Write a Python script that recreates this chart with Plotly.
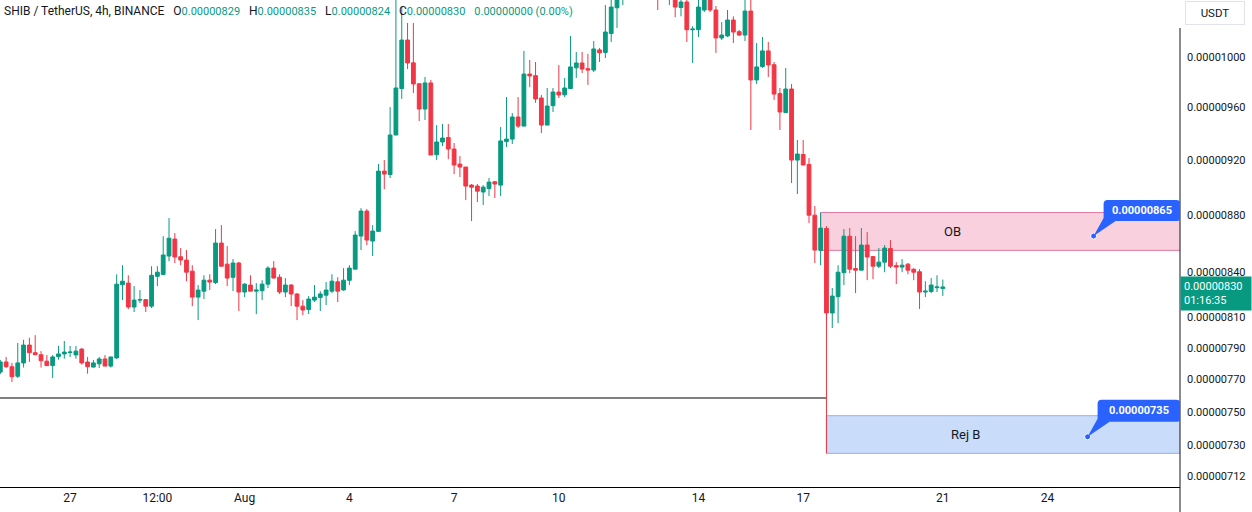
import math
import pandas as pd
import plotly.graph_objects as go

# ---------------- data (prices in units of 1e-8 USDT, 4h candles) ----------------
candle_start = "2023-07-25 00:00"
open_e8 = [774.6, 781.0, 778.0, 772.0, 780.4, 791.8, 786.9, 785.6, 781.5, 778.7,
           784.5, 786.1, 787.0, 785.5, 789.2, 781.0, 777.8, 779.8, 782.9, 778.4,
           783.6, 831.5, 832.6, 816.6, 821.2, 821.5, 817.2, 837.2, 838.5, 851.1,
           862.9, 850.6, 848.3, 840.7, 823.2, 827.2, 834.6, 833.0, 860.1, 845.5,
           836.5, 846.3, 826.6, 831.3, 827.2, 827.5, 831.9, 842.8, 836.6, 826.6,
           831.3, 825.3, 817.2, 815.0, 821.2, 823.0, 824.5, 827.2, 833.5, 828.0,
           834.5, 842.1, 865.0, 882.7, 861.5, 868.3, 911.8, 909.3, 938.9, 975.0,
           1014.1, 995.5, 978.8, 958.9, 979.4, 924.0, 933.6, 937.0, 928.3, 917.0,
           914.8, 901.5, 900.8, 896.5, 899.0, 904.0, 901.5, 934.0, 935.8, 952.7,
           945.7, 986.5, 985.2, 967.5, 946.5, 961.5, 972.2, 970.0, 975.0, 991.5,
           995.4, 990.8, 989.7, 1006.0, 1004.0, 1019.5, 1041.0, 1058.0, 1072.0, 1085.0,
           1100.0, 1095.0, 1090.0, 1075.0, 1062.0, 1066.0, 1070.0, 1041.2, 1045.9, 1022.6,
           1022.6, 1039.1, 1049.0, 1039.1, 1015.8, 1017.5, 1030.7, 1021.0, 1018.2, 1038.2,
           981.8, 992.5, 1005.2, 994.0, 971.0, 956.2, 974.6, 920.0, 924.2, 916.8,
           879.8, 855.0, 870.3, 812.7, 823.5, 839.7, 864.9, 842.5, 841.4, 858.7,
           850.7, 844.1, 846.9, 856.3, 844.5, 843.5, 845.5, 842.0, 840.3, 826.6,
           827.0, 829.5, 829.0]
high_e8 = [782.3, 784.2, 780.4, 793.1, 795.2, 796.5, 798.2, 787.9, 785.4, 785.4,
           791.2, 794.4, 791.2, 791.2, 789.9, 784.2, 782.3, 784.2, 785.4, 784.2,
           838.6, 844.8, 837.9, 830.6, 827.9, 821.9, 844.1, 844.1, 864.9, 877.7,
           867.1, 856.6, 855.2, 844.8, 831.3, 837.9, 838.6, 869.9, 872.7, 858.0,
           849.0, 847.0, 832.6, 837.9, 832.6, 834.6, 844.1, 847.6, 838.6, 836.0,
           831.9, 825.9, 821.2, 823.9, 831.3, 827.2, 833.3, 838.6, 836.6, 842.8,
           844.8, 868.5, 884.8, 884.1, 872.7, 917.1, 920.0, 960.4, 1051.7, 1041.6,
           1028.2, 1028.2, 978.8, 984.2, 981.8, 946.5, 947.3, 947.3, 932.8, 923.0,
           914.8, 902.3, 902.3, 901.5, 906.7, 904.5, 945.0, 968.3, 955.8, 968.3,
           1005.2, 997.8, 996.2, 969.9, 975.4, 975.4, 993.8, 983.4, 1017.4, 1004.4,
           1004.4, 1002.8, 1013.3, 1007.6, 1043.3, 1054.3, 1066.0, 1080.0, 1092.0, 1110.0,
           1118.0, 1108.0, 1102.0, 1085.0, 1078.0, 1080.0, 1078.0, 1052.6, 1049.3, 1025.6,
           1050.1, 1056.0, 1053.0, 1042.5, 1029.0, 1039.1, 1033.8, 1022.4, 1048.0, 1049.0,
           1011.7, 1016.6, 1012.5, 996.2, 975.4, 991.4, 978.6, 935.1, 935.1, 921.5,
           886.3, 881.7, 872.0, 829.3, 844.8, 869.9, 870.6, 864.9, 870.6, 867.8,
           851.1, 856.6, 858.7, 862.2, 846.9, 849.0, 846.3, 842.8, 842.1, 833.9,
           836.0, 837.9, 835.0]
low_e8 = [773.4, 777.2, 768.4, 770.9, 777.5, 781.0, 785.4, 777.5, 778.5, 770.9,
          782.5, 783.1, 784.2, 783.1, 779.3, 773.6, 777.5, 777.2, 778.4, 777.5,
          782.9, 821.2, 815.3, 813.3, 819.2, 813.3, 815.9, 830.6, 837.9, 847.6,
          846.3, 844.8, 833.9, 817.2, 808.0, 821.9, 827.9, 831.9, 844.1, 830.6,
          827.2, 814.0, 823.2, 827.2, 811.9, 821.2, 829.3, 836.0, 825.3, 823.2,
          817.2, 808.0, 811.3, 812.0, 819.9, 814.0, 817.9, 825.9, 819.9, 827.5,
          831.3, 842.1, 855.2, 858.7, 851.1, 867.8, 898.6, 906.7, 938.9, 966.8,
          990.5, 971.4, 949.6, 950.4, 923.8, 920.0, 930.5, 920.7, 909.6, 907.4,
          890.6, 875.6, 889.2, 887.0, 893.5, 892.1, 893.5, 929.8, 932.1, 944.2,
          945.7, 976.1, 963.7, 940.4, 946.5, 956.6, 967.5, 968.3, 974.6, 983.4,
          987.3, 977.8, 988.1, 996.2, 999.4, 1012.5, 1024.0, 1043.3, 1060.0, 1078.0,
          1088.0, 1082.0, 1066.0, 1039.1, 1052.0, 1043.3, 1033.0, 1033.8, 1012.5, 995.4,
          1016.6, 1037.4, 1037.4, 1003.6, 1014.1, 1016.6, 1011.7, 1017.4, 1013.3, 942.7,
          978.6, 991.4, 984.2, 966.0, 942.7, 955.8, 903.0, 895.0, 916.3, 874.2,
          846.3, 844.8, 808.0, 802.8, 806.0, 831.3, 839.3, 825.9, 841.4, 834.6,
          835.3, 842.8, 840.0, 842.8, 831.9, 840.0, 838.6, 834.6, 815.3, 823.2,
          825.9, 826.6, 824.0]
close_e8 = [781.0, 778.0, 771.7, 780.4, 791.8, 786.9, 785.6, 781.8, 778.7, 784.2,
            786.1, 787.3, 787.3, 787.9, 780.4, 778.0, 780.4, 782.9, 778.4, 784.2,
            831.9, 833.9, 816.6, 821.2, 821.5, 817.2, 837.9, 840.0, 851.8, 863.5,
            850.4, 848.3, 840.0, 823.2, 827.9, 834.6, 833.3, 860.1, 844.1, 836.0,
            846.3, 826.6, 831.9, 827.2, 827.9, 831.9, 842.8, 836.0, 826.6, 831.3,
            825.3, 817.2, 814.6, 821.9, 823.2, 825.3, 827.9, 833.9, 827.2, 834.6,
            842.8, 865.7, 882.7, 862.2, 868.5, 911.8, 909.6, 938.9, 975.4, 1014.1,
            995.4, 978.6, 958.9, 979.4, 923.8, 933.6, 936.6, 928.3, 916.3, 914.8,
            900.8, 900.0, 897.1, 900.0, 903.7, 902.3, 934.4, 935.8, 952.7, 945.7,
            986.5, 985.0, 966.8, 946.5, 961.2, 972.2, 969.9, 975.4, 992.2, 995.4,
            990.5, 989.7, 1006.8, 1003.6, 1020.7, 1041.6, 1058.0, 1072.0, 1085.0, 1100.0,
            1095.0, 1090.0, 1075.0, 1062.0, 1070.0, 1072.0, 1041.6, 1045.9, 1022.6, 1023.2,
            1041.6, 1049.0, 1039.1, 1015.8, 1018.2, 1030.7, 1020.7, 1018.2, 1038.2, 981.8,
            992.2, 1005.2, 993.8, 970.6, 956.6, 974.6, 920.0, 924.5, 916.3, 879.8,
            855.2, 870.6, 812.7, 823.9, 840.0, 864.9, 842.1, 841.4, 858.7, 850.4,
            844.1, 846.9, 856.6, 844.1, 843.5, 844.8, 841.4, 840.0, 826.6, 827.2,
            831.3, 830.0, 830.0]

ytick_e8 = [1000, 960, 920, 880, 840, 810, 790, 770, 750, 730, 712]
ytick_text = ["0.00001000", "0.00000960", "0.00000920", "0.00000880", "0.00000840",
              "0.00000810", "0.00000790", "0.00000770", "0.00000750", "0.00000730",
              "0.00000712"]
xtick_dates = ["2023-07-27 00:00", "2023-07-29 12:00", "2023-08-01 00:00", "2023-08-04 00:00",
               "2023-08-07 00:00", "2023-08-10 00:00", "2023-08-14 00:00", "2023-08-17 00:00",
               "2023-08-21 00:00", "2023-08-24 00:00"]
xtick_text = ["27", "12:00", "Aug", "4", "7", "10", "14", "17", "21", "24"]

ob_top_e8, ob_bottom_e8 = 881.7, 855.0
rej_top_e8, rej_bottom_e8 = 747.7, 725.2
ob_note_e8, rej_note_e8 = 865, 735
hline_e8 = 758.5
last_price_e8 = 830
ob_start = "2023-08-17 12:00"
rej_start = "2023-08-17 16:00"
ob_note_time = "2023-08-25 07:40"
rej_note_time = "2023-08-25 03:32"
ob_label_time = "2023-08-21 06:40"
rej_label_time = "2023-08-21 15:40"

E = 1e-8
GREEN = "#089981"
RED = "#F23645"
TXT = "#131722"
BLUE = "#2962FF"
FONT = "Roboto"

times = pd.date_range(candle_start, periods=len(open_e8), freq="4h")

# ---------------- layout geometry ----------------
W, H = 1252, 512
PLOT_W, PLOT_H = 1180, 487
px_per_hour = 5.818 / 4
x_left = pd.Timestamp(candle_start) - pd.Timedelta(hours=0.3 / px_per_hour)
x_right = x_left + pd.Timedelta(hours=PLOT_W / px_per_hour)
y_lo, y_hi = 705.67 * E, 1047.58 * E

fig = go.Figure()
fig.add_trace(go.Candlestick(
    x=times,
    open=[v * E for v in open_e8], high=[v * E for v in high_e8],
    low=[v * E for v in low_e8], close=[v * E for v in close_e8],
    increasing=dict(line=dict(color=GREEN, width=1), fillcolor=GREEN),
    decreasing=dict(line=dict(color=RED, width=1), fillcolor=RED),
    whiskerwidth=0, hoverinfo="skip", showlegend=False,
))

# callout dots
fig.add_trace(go.Scatter(
    x=[ob_note_time, rej_note_time], y=[ob_note_e8 * E, rej_note_e8 * E],
    mode="markers", hoverinfo="skip", showlegend=False,
    marker=dict(size=6, color=BLUE, line=dict(color="white", width=1)),
))

shapes = [
    dict(type="rect", xref="x", yref="y", x0=ob_start, x1="2023-09-15",
         y0=ob_bottom_e8 * E, y1=ob_top_e8 * E, fillcolor="#F9D0DE",
         line=dict(color="#DE7CA2", width=1), layer="below"),
    dict(type="rect", xref="x", yref="y", x0=rej_start, x1="2023-09-15",
         y0=rej_bottom_e8 * E, y1=rej_top_e8 * E, fillcolor="#C9DCFA",
         line=dict(color="#8FB2EE", width=1), layer="below"),
    dict(type="line", xref="x", yref="y", x0="2023-07-15", x1=rej_start,
         y0=hline_e8 * E, y1=hline_e8 * E, line=dict(color="#000000", width=1), layer="below"),
    dict(type="line", xref="x", yref="y", x0=rej_start, x1=rej_start,
         y0=close_e8[142] * E, y1=rej_bottom_e8 * E, line=dict(color=RED, width=1), layer="below"),
    # right price-scale border
    dict(type="line", xref="paper", yref="paper", x0=1, x1=1,
         y0=-(H - PLOT_H) / PLOT_H, y1=(PLOT_H - 28) / PLOT_H,
         line=dict(color=TXT, width=1)),
]

bubble_ob = ("M 0,0 L 10,18 L 10,32 Q 10,36 14,36 L 83,36 Q 87,36 87,32 "
             "L 87,19 Q 87,15 83,15 L 22,15 Z")
bubble_rej = ("M 0,0 L 10,18 L 10,33 Q 10,37 14,37 L 89,37 Q 93,37 93,33 "
              "L 93,19 Q 93,15 89,15 L 22,15 Z")
for t, p, path in [(ob_note_time, ob_note_e8, bubble_ob), (rej_note_time, rej_note_e8, bubble_rej)]:
    shapes.append(dict(type="path", xref="x", yref="y", xsizemode="pixel", ysizemode="pixel",
                       xanchor=t, yanchor=p * E, path=path, fillcolor=BLUE,
                       line=dict(width=0), layer="above"))

hdr_gap = "&nbsp;&nbsp;&nbsp;"
def g(s):
    return f'<span style="color:{GREEN};font-size:11px">{s}</span>'
header = ("SHIB / TetherUS, 4h, BINANCE" + hdr_gap + "O" + g("0.00000829") + hdr_gap +
          "H" + g("0.00000835") + hdr_gap + "L" + g("0.00000824") + hdr_gap +
          "C" + g("0.00000830") + hdr_gap + g("0.00000000 (0.00%)"))

annotations = [
    dict(xref="paper", yref="paper", x=2 / PLOT_W, y=(PLOT_H - 11) / PLOT_H,
         xanchor="left", yanchor="middle", text=header, showarrow=False,
         font=dict(family=FONT, size=12, color=TXT)),
    dict(xref="paper", yref="paper", x=1215 / PLOT_W, y=(PLOT_H - 13) / PLOT_H,
         xanchor="center", yanchor="middle", text="USDT", showarrow=False,
         font=dict(family=FONT, size=11.5, color=TXT), bgcolor="white",
         bordercolor="#E0E3EB", borderwidth=1, borderpad=4, width=50),
    dict(xref="paper", yref="y", x=1, y=math.log10(last_price_e8 * E), xanchor="left",
         yanchor="middle", yshift=-6.5, text="0.00000830<br>01:16:35", align="left",
         showarrow=False, bgcolor=GREEN, borderpad=3, width=64,
         font=dict(family=FONT, size=11, color="white")),
    dict(xref="x", yref="y", x=ob_label_time,
         y=math.log10(math.sqrt(ob_top_e8 * ob_bottom_e8) * E), text="OB", showarrow=False,
         font=dict(family=FONT, size=13, color=TXT)),
    dict(xref="x", yref="y", x=rej_label_time,
         y=math.log10(math.sqrt(rej_top_e8 * rej_bottom_e8) * E), text="Rej B", showarrow=False,
         font=dict(family=FONT, size=13, color=TXT)),
    dict(xref="x", yref="y", x=ob_note_time, y=math.log10(ob_note_e8 * E), xshift=48.5,
         yshift=25.5, text="<b>0.00000865</b>", showarrow=False,
         font=dict(family=FONT, size=11, color="white")),
    dict(xref="x", yref="y", x=rej_note_time, y=math.log10(rej_note_e8 * E), xshift=51.5,
         yshift=26, text="<b>0.00000735</b>", showarrow=False,
         font=dict(family=FONT, size=11, color="white")),
]

fig.update_layout(
    width=W, height=H, autosize=False,
    margin=dict(l=0, r=W - PLOT_W, t=0, b=H - PLOT_H, pad=0),
    paper_bgcolor="white", plot_bgcolor="white",
    boxgap=0.35, boxgroupgap=0,
    showlegend=False, hovermode=False,
    shapes=shapes, annotations=annotations,
    xaxis=dict(type="date", range=[x_left, x_right], showgrid=False, zeroline=False,
               showline=True, linecolor="#000000", linewidth=1, ticks="",
               tickvals=xtick_dates, ticktext=xtick_text,
               tickfont=dict(family=FONT, size=12, color=TXT),
               rangeslider=dict(visible=False), fixedrange=True),
    yaxis=dict(type="log", side="right", range=[math.log10(y_lo), math.log10(y_hi)],
               showgrid=False, zeroline=False, showline=False, ticks="",
               tickvals=[v * E for v in ytick_e8], ticktext=ytick_text,
               ticklabelstandoff=6,
               tickfont=dict(family=FONT, size=11, color=TXT), fixedrange=True),
)

fig.write_html("out.html", config={"displayModeBar": False})
